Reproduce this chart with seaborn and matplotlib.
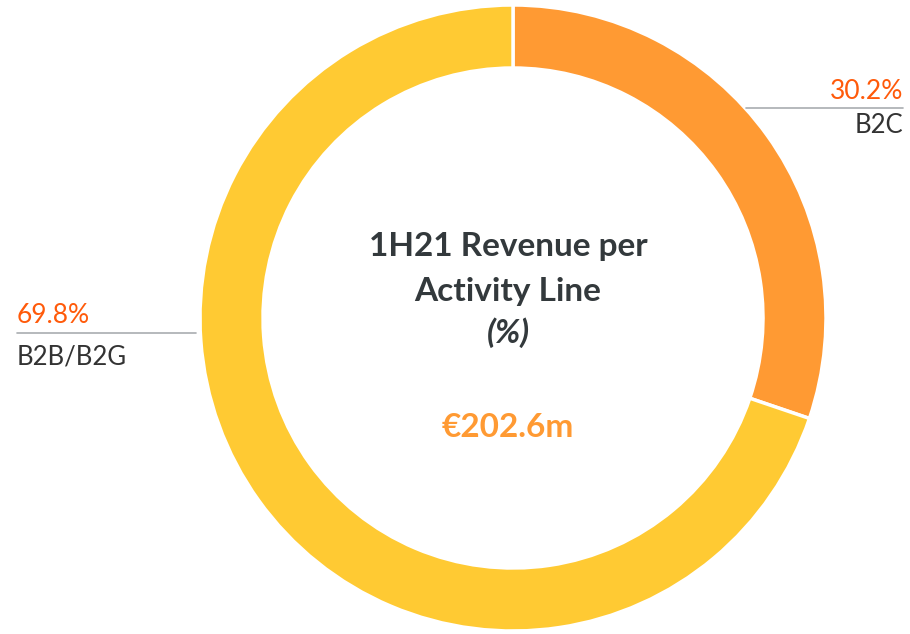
import matplotlib.pyplot as plt
import seaborn as sns

# Revenue split per activity line, 1H21
segments = ['B2C', 'B2B/B2G']
shares = [30.2, 69.8]
share_labels = ['30.2%', '69.8%']
total_label = '€202.6m'

sns.set_theme(style='white')
plt.rcParams['font.family'] = ['Lato', 'DejaVu Sans']

colors = ['#FF9A33', '#FFCA33']

W, H = 910, 634
fig = plt.figure(figsize=(W / 100, H / 100), dpi=100)
ax = fig.add_axes([0, 0, 1, 1])
ax.set_xlim(0, W)
ax.set_ylim(0, H)
ax.set_aspect('equal')
ax.axis('off')

# donut, clockwise from 12 o'clock
ax.pie(shares, colors=colors, startangle=90, counterclock=False,
       center=(513, H - 318), radius=313,
       wedgeprops=dict(width=63, edgecolor='white', linewidth=2.5))
ax.set_xlim(0, W)
ax.set_ylim(0, H)

pct_color = '#FF5A0A'
lab_color = '#333333'
line_color = '#A9ADB0'

# right label (B2C)
ax.plot([746, 903], [H - 108, H - 108], color=line_color, lw=1.2)
ax.text(903, H - 99, share_labels[0], ha='right', va='baseline',
        fontsize=19, color=pct_color)
ax.text(903, H - 133, segments[0], ha='right', va='baseline',
        fontsize=18.5, color=lab_color)

# left label (B2B/B2G)
ax.plot([17, 196], [H - 333, H - 333], color=line_color, lw=1.2)
ax.text(17, H - 323, share_labels[1], ha='left', va='baseline',
        fontsize=19, color=pct_color)
ax.text(17, H - 364, segments[1], ha='left', va='baseline',
        fontsize=18.5, color=lab_color)

# centre text
title_color = '#33393C'
ax.text(508, H - 256, '1H21 Revenue per', ha='center', va='baseline',
        fontsize=24, fontweight='bold', color=title_color)
ax.text(508, H - 301, 'Activity Line', ha='center', va='baseline',
        fontsize=24, fontweight='bold', color=title_color)
ax.text(508, H - 343, '(%)', ha='center', va='baseline',
        fontsize=24, fontweight='bold', fontstyle='italic', color=title_color)
ax.text(508, H - 437, total_label, ha='center', va='baseline',
        fontsize=24, fontweight='bold', color='#FF9A33')

fig.savefig('out.png', dpi=100)
